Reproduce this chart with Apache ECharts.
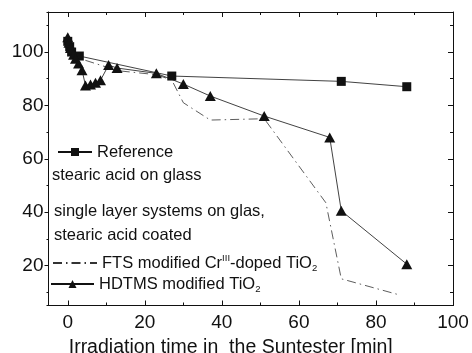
<!DOCTYPE html>
<html><head><meta charset="utf-8">
<script src="https://cdn.jsdelivr.net/npm/echarts@6/dist/echarts.min.js"></script>
<style>html,body{margin:0;padding:0;background:#fff}#c{width:472px;height:353px}</style>
</head><body><div id="c"></div>
<script>
// ---- data ----
const referenceData = [[0,104],[0.5,102],[1,100],[3,98.5],[27,91],[71,89],[88,87]];
const ftsData = [[0,99],[13,93],[23,91.5],[27,89.5],[30,81],[37,74.5],[51,75],[67,43.5],[71,15],[86,9]];
const hdtmsData = [[0,105.5],[0.3,103.5],[0.7,101.5],[1.5,99],[2,97.5],[2.8,95.7],[3.7,93.2],[4.6,87.5],[5.9,87.8],[7.2,88.5],[8.5,89.4],[10.6,95.1],[12.8,94],[23,92],[30,88],[37,83.5],[51,76],[68,68],[71,40.5],[88,20.5]];
const xTickLabels = [0,20,40,60,80,100];
const yTickLabels = [20,40,60,80,100];
const seriesNames = ['Reference','FTS','HDTMS'];
const legendTexts = {
  Reference: 'Reference',
  FTS: 'FTS modified Cr{sup|III}-doped TiO{sub|2}',
  HDTMS: 'HDTMS modified TiO{sub|2}'
};
const xTitle = 'Irradiation time in  the Suntester [min]';
const noteLines = ['stearic acid on glass','single layer systems on glas,','stearic acid coated'];

const FONT = '"Liberation Sans", Arial, sans-serif';
const INK = '#111';

const chart = echarts.init(document.getElementById('c'), null, {renderer:'canvas'});

function xAx(opts){
  return Object.assign({
    type:'value', min:-5, max:100, gridIndex:0,
    splitLine:{show:false},
    axisLine:{show:false, onZero:false, lineStyle:{color:INK, width:1}},
    axisTick:{show:true, inside:true, length:5, lineStyle:{color:INK, width:1}},
    axisLabel:{show:false}
  }, opts);
}
function yAx(opts){
  return Object.assign({
    type:'value', min:5, max:115, gridIndex:0,
    splitLine:{show:false},
    axisLine:{show:false, onZero:false, lineStyle:{color:INK, width:1}},
    axisTick:{show:true, inside:true, length:5, lineStyle:{color:INK, width:1}},
    axisLabel:{show:false}
  }, opts);
}

const legendText = {
  fontSize:16.5, fontFamily:FONT, color:INK, lineHeight:20,
  rich:{
    sup:{fontSize:9.5, fontFamily:FONT, color:INK, verticalAlign:'top', lineHeight:11},
    sub:{fontSize:9.5, fontFamily:FONT, color:INK, verticalAlign:'bottom', lineHeight:11}
  }
};

const option = {
  animation:false,
  backgroundColor:'#fff',
  grid:{left:48.5, right:19, top:12, bottom:47.5, containLabel:false, outerBoundsMode:'none'},
  xAxis:[
    xAx({position:'bottom', splitNumber:5,
      axisLine:{show:true, onZero:false, lineStyle:{color:INK, width:1}},
      axisLabel:{show:true, fontSize:19, fontFamily:FONT, color:INK, margin:8,
        showMinLabel:false,
        formatter:v => xTickLabels.indexOf(v) >= 0 ? String(v) : ''},
      name:xTitle, nameLocation:'middle', nameGap:25,
      nameTextStyle:{fontSize:19.5, fontFamily:FONT, color:INK, padding:[0,40,0,0]}
    }),
    xAx({position:'bottom', splitNumber:10, axisTick:{show:true, inside:true, length:3, lineStyle:{color:INK}}}),
    xAx({position:'top', splitNumber:5,
      axisLine:{show:true, onZero:false, lineStyle:{color:INK, width:1}}}),
    xAx({position:'top', splitNumber:10, axisTick:{show:true, inside:true, length:3, lineStyle:{color:INK}}})
  ],
  yAxis:[
    yAx({position:'left', splitNumber:5,
      axisLine:{show:true, onZero:false, lineStyle:{color:INK, width:1}},
      axisTick:{show:true, inside:false, length:4, lineStyle:{color:INK}},
      axisLabel:{show:true, fontSize:19, fontFamily:FONT, color:INK, margin:5,
        showMinLabel:false, showMaxLabel:false,
        formatter:v => yTickLabels.indexOf(v) >= 0 ? String(v) : ''}
    }),
    yAx({position:'left', splitNumber:11, axisTick:{show:true, inside:false, length:2, lineStyle:{color:INK}}}),
    yAx({position:'right', splitNumber:5,
      axisLine:{show:true, onZero:false, lineStyle:{color:INK, width:1}}}),
    yAx({position:'right', splitNumber:11, axisTick:{show:true, inside:true, length:3, lineStyle:{color:INK}}})
  ],
  legend:[
    {data:[seriesNames[0]], left:57, top:142, padding:0, itemWidth:34, itemHeight:10,
      formatter:n => legendTexts[n], textStyle:legendText},
    {data:[seriesNames[1]], left:52, top:253, padding:0, itemWidth:44, itemHeight:10,
      itemStyle:{color:'rgba(0,0,0,0)', borderColor:'rgba(0,0,0,0)', borderWidth:0, opacity:0},
      formatter:n => legendTexts[n], textStyle:legendText},
    {data:[seriesNames[2]], left:50, top:274, padding:0, itemWidth:43, itemHeight:10,
      formatter:n => legendTexts[n], textStyle:legendText}
  ],
  graphic:[
    {type:'text', left:52, top:167, style:{text:noteLines[0], fontSize:16.5, fontFamily:FONT, fill:INK}},
    {type:'text', left:54, top:203, style:{text:noteLines[1], fontSize:16.5, fontFamily:FONT, fill:INK}},
    {type:'text', left:54, top:227, style:{text:noteLines[2], fontSize:16.5, fontFamily:FONT, fill:INK}}
  ],
  series:[
    {name:seriesNames[0], type:'line', data:referenceData, xAxisIndex:0, yAxisIndex:0,
      symbol:'rect', symbolSize:9, showAllSymbol:true,
      lineStyle:{color:INK, width:0.8}, itemStyle:{color:INK}, z:3},
    {name:seriesNames[1], type:'line', data:ftsData, xAxisIndex:0, yAxisIndex:0,
      symbol:'none',
      lineStyle:{color:'#333', width:0.8, type:[9,4,1.5,4]}, itemStyle:{color:'#333'}, z:2},
    {name:seriesNames[2], type:'line', data:hdtmsData, xAxisIndex:0, yAxisIndex:0,
      symbol:'triangle', symbolSize:[11,10], showAllSymbol:true,
      lineStyle:{color:INK, width:0.8}, itemStyle:{color:INK}, z:4}
  ]
};
chart.setOption(option);
</script>
</body></html>
